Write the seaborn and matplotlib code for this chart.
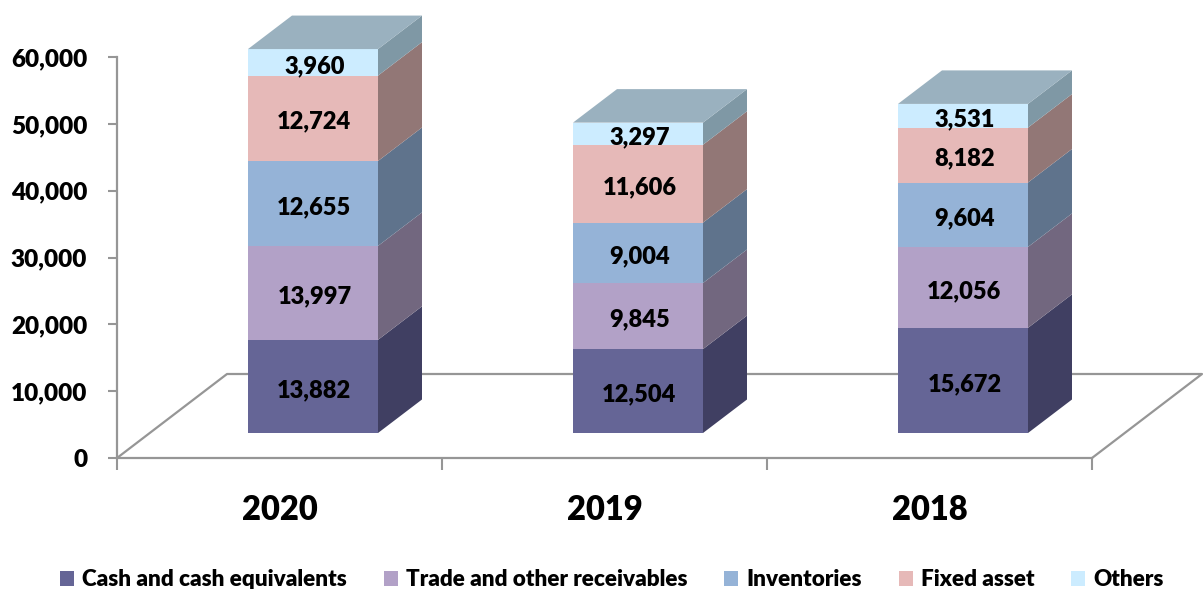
import matplotlib
matplotlib.use("Agg")
import matplotlib.pyplot as plt
import pandas as pd
import seaborn as sns

# chart values
years = ["2020", "2019", "2018"]
cash = [13882, 12504, 15672]
receivables = [13997, 9845, 12056]
inventories = [12655, 9004, 9604]
fixed_asset = [12724, 11606, 8182]
others = [3960, 3297, 3531]

series_names = ["Cash and cash equivalents", "Trade and other receivables",
                "Inventories", "Fixed asset", "Others"]
series_values = [cash, receivables, inventories, fixed_asset, others]

# colours of front and side faces
front_colors = ["#656596", "#B2A1C7", "#95B3D7", "#E6B9B8", "#CCECFF"]
side_colors = ["#403F62", "#72677F", "#5F738C", "#927776", "#7F98A5"]
top_color = "#9AB1BF"
line_color = "#969696"

# figure size in pixels
W, H = 1203, 589
BAR_WIDTH = 0.4

sns.set_style("white")
plt.rcParams["font.family"] = ["Lato", "DejaVu Sans"]
plt.rcParams["font.weight"] = "heavy"
plt.rcParams["text.color"] = "black"
plt.rcParams["xtick.labelcolor"] = "black"
plt.rcParams["ytick.labelcolor"] = "black"

fig = plt.figure(figsize=(W / 100, H / 100), dpi=100)


def pixel_axes(left, right, top, bottom):
    """axes placed by pixel edges of the picture"""
    return fig.add_axes([left / W, 1 - bottom / H, (right - left) / W, (bottom - top) / H])


# back axes with the scale and the floor
ax = pixel_axes(117, 1092, 57, 458)
ax.set_zorder(1)
ax.set_xlim(-0.5, 2.5)
ax.set_ylim(0, 60000)
ax.set_yticks(range(0, 60001, 10000))
ax.yaxis.set_major_formatter(matplotlib.ticker.StrMethodFormatter("{x:,.0f}"))
ax.set_xticks([-0.5, 0.5, 1.5, 2.5], [])
ax.set_xticks([0, 1, 2], years, minor=True)
ax.tick_params(axis="y", length=6.5, width=1.5, color=line_color, left=True, labelsize=17.5, pad=15)
ax.tick_params(axis="x", which="major", length=8.6, width=1.5, color=line_color, bottom=True)
ax.tick_params(axis="x", which="minor", length=0, labelsize=23.5, pad=26)
sns.despine(ax=ax)
for side in ["left", "bottom"]:
    ax.spines[side].set_color(line_color)
    ax.spines[side].set_linewidth(1.6)

floor_dx = 110 / 975
floor_dy = 84 / 401
ax.plot([0, floor_dx, 1 + floor_dx, 1], [0, floor_dy, floor_dy, 0], color=line_color,
        lw=1.6, transform=ax.transAxes, clip_on=False)

# front axes for the bars, moved to the middle of the floor
bar_ax = pixel_axes(150.5, 1125.5, 30.4, 433)
bar_ax.set_zorder(2)
bar_ax.patch.set_alpha(0)

bottoms = [0, 0, 0]
for name, values, color, side_color in zip(series_names, series_values, front_colors, side_colors):
    df = pd.DataFrame({"year": years, "value": values})
    sns.barplot(data=df, x="year", y="value", color=color, saturation=1, width=BAR_WIDTH,
                bottom=bottoms, label=name, ax=bar_ax, linewidth=0)
    value_labels = bar_ax.bar_label(bar_ax.containers[-1], fmt="{:,.0f}", label_type="center",
                                    fontsize=17, fontweight="heavy", color="black")
    for value_label in value_labels:
        value_label.xyann = (1, -2.5)

    # side face of each segment
    tops = [b + v for b, v in zip(bottoms, values)]
    for i in range(len(years)):
        edge = i + BAR_WIDTH / 2
        depth_x = 44 / 325
        depth_y = 33.5 / 402.6 * 60000
        bar_ax.fill([edge, edge + depth_x, edge + depth_x, edge],
                    [bottoms[i], bottoms[i] + depth_y, tops[i] + depth_y, tops[i]],
                    color=side_color, lw=0, clip_on=False)
    bottoms = tops

# top face of each bar
for i in range(len(years)):
    left = i - BAR_WIDTH / 2
    bar_ax.fill([left, left + depth_x, left + BAR_WIDTH + depth_x, left + BAR_WIDTH],
                [bottoms[i], bottoms[i] + depth_y, bottoms[i] + depth_y, bottoms[i]],
                color=top_color, lw=0, clip_on=False)

bar_ax.set_xlim(-0.5, 2.5)
bar_ax.set_ylim(0, 60000)
bar_ax.axis("off")

# legend along the bottom, not inside the axes
handles, labels = bar_ax.get_legend_handles_labels()
bar_ax.get_legend().remove()
fig.legend(handles, labels, loc="center", bbox_to_anchor=(612 / W, 1 - 580 / H), ncols=5,
           frameon=False, fontsize=16.2, handlelength=0.62, handleheight=0.62,
           handletextpad=0.35, columnspacing=1.65, borderpad=0)

fig.savefig("out.png", dpi=100)
